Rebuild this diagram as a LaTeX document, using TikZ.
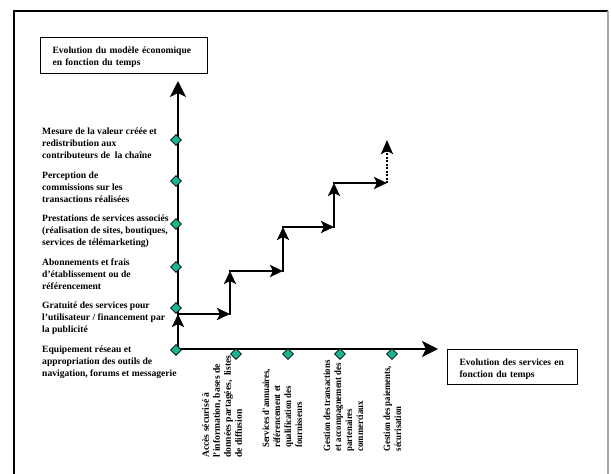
\documentclass[tikz,border=0pt]{standalone}
\usepackage{fontspec}
\setmainfont{Liberation Serif}
\newfontfamily\condserif[FakeStretch=0.91]{Liberation Serif}
\usetikzlibrary{shapes.geometric,arrows.meta}
\definecolor{tealdia}{RGB}{25,180,145}
\newcommand\fls{\rule{0pt}{8pt}}
\newcommand\bxs{\rule{0pt}{11pt}}
\begin{document}
\begin{tikzpicture}[x=1pt,y=-1pt,
  lbl/.style={anchor=north west, align=left, inner sep=0pt, font=\bfseries\fontsize{9.6}{12}\selectfont},
  rlbl/.style={anchor=north west, align=left, inner sep=0pt, rotate=90, font=\condserif\bfseries\fontsize{9.6}{11}\selectfont},
  rlblbig/.style={rlbl, font=\bfseries\fontsize{9.6}{11}\selectfont},
  tick/.style={diamond, draw=black, line width=0.8pt, fill=tealdia, inner sep=0pt, minimum width=11pt, minimum height=11pt},
  axis/.style={line width=1.8pt, -{Stealth[length=16pt,width=16pt,inset=4pt]}},
  stair/.style={line width=2.8pt, line cap=rect, -{Stealth[length=13pt,width=12pt,inset=3pt]}},
  dotstair/.style={line width=2.5pt, dash pattern=on 2pt off 1.5pt, -{Stealth[length=14pt,width=12pt,inset=3pt]}},
  boxlbl/.style={draw, line width=1pt, align=left, inner xsep=12pt, inner ysep=0pt, anchor=north west, font=\bfseries\fontsize{9.6}{12}\selectfont}
]
\useasboundingbox (0,0) rectangle (611,474);
% frame
\draw[line width=1.2pt] (14,474) -- (14,11) -- (608,11);
\draw[line width=1.2pt, gray!70] (608,11) -- (608,474);

% boxes
\node[boxlbl, minimum width=167pt, minimum height=36pt, text width=143pt] (ybox) at (40,37)
  {\bxs Evolution du modèle économique\\en fonction du temps};
\node[boxlbl, minimum width=130pt, minimum height=35pt, text width=106pt] (xbox) at (447,349)
  {\bxs Evolution des services en\\fonction du temps};

% axes
\coordinate (O) at (178,349);
\coordinate (ytop) at (178,81);
\coordinate (xend) at (438,349);
\draw[axis] (O) -- (ytop);
\draw[axis] (O) -- (xend);

% staircase
\coordinate (s1) at (178,314);
\coordinate (s2) at (230,314);
\coordinate (s3) at (230,271);
\coordinate (s4) at (283,271);
\coordinate (s5) at (283,227);
\coordinate (s6) at (334,227);
\coordinate (s7) at (334,183);
\coordinate (s8) at (387,183);
\coordinate (s9) at (387,140);
\draw[stair] (O) -- (s1);
\draw[stair] (s1) -- (s2);
\draw[stair] (s2) -- (s3);
\draw[stair] (s3) -- (s4);
\draw[stair] (s4) -- (s5);
\draw[stair] (s5) -- (s6);
\draw[stair] (s6) -- (s7);
\draw[stair] (s7) -- (s8);
\draw[dotstair] (s8) -- (s9);

% diamonds
\node[tick] (v1) at (176,350) {};
\node[tick] (v2) at (176,308) {};
\node[tick] (v3) at (176,267) {};
\node[tick] (v4) at (176,224) {};
\node[tick] (v5) at (176,181) {};
\node[tick] (v6) at (176,140) {};
\node[tick] (h1) at (236,354) {};
\node[tick] (h2) at (288,354) {};
\node[tick] (h3) at (340,354) {};
\node[tick] (h4) at (392,354) {};

% left labels
\node[lbl] (l6) at (42,126.7) {\fls Mesure de la valeur créée et\\redistribution aux\\contributeurs de \ la chaîne};
\node[lbl] (l5) at (42,170) {\fls Perception de\\commissions sur les\\transactions réalisées};
\node[lbl] (l4) at (42,213.4) {\fls Prestations de services associés\\(réalisation de sites, boutiques,\\services de télémarketing)};
\node[lbl] (l3) at (42,256.8) {\fls Abonnements et frais\\d’établissement ou de\\référencement};
\node[lbl] (l2) at (42,300.3) {\fls Gratuité des services pour\\l’utilisateur / financement par\\la publicité};
\node[lbl] (l1) at (42,344) {\fls Equipement réseau et\\appropriation des outils de\\navigation, forums et messagerie};

% rotated labels
\node[rlblbig] (r1) at (200.7,458) {\fls Accès sécurisé à\\l'information, bases de\\données partagées, \ listes\\de diffusion};
\node[rlbl] (r2) at (261,448) {\fls Services d'annuaires,\\référencement et\\qualification des\\fournisseurs};
\node[rlbl] (r3) at (322,451.5) {\fls Gestion des transactions\\et accompagnement des\\partenaires\\commerciaux};
\node[rlbl] (r4) at (382,451.5) {\fls Gestion des paiements,\\sécurisation};
\end{tikzpicture}
\end{document}
